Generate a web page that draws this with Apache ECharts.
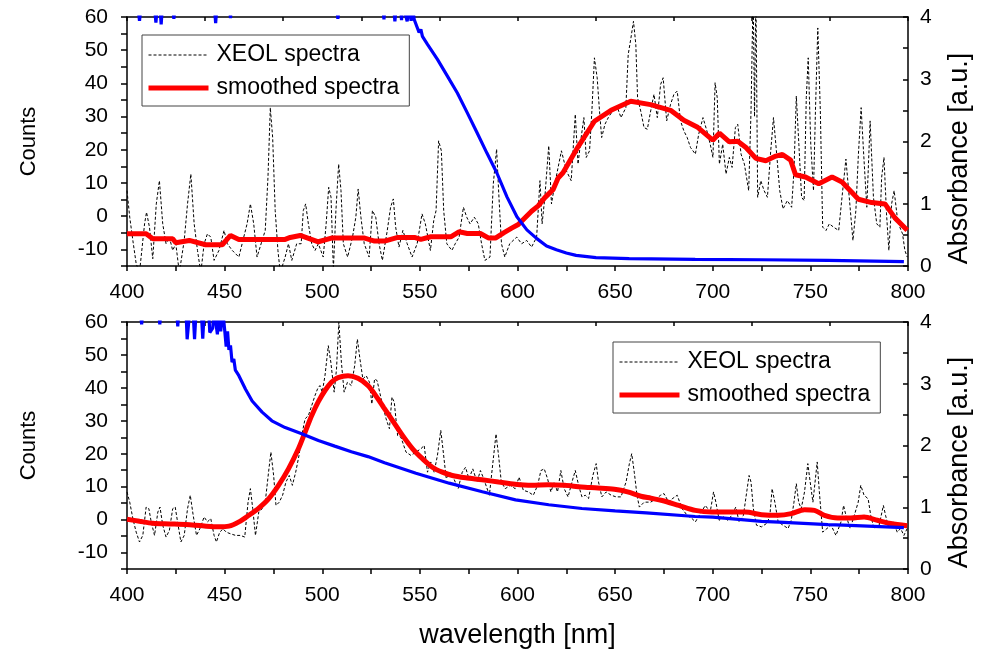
<!DOCTYPE html>
<html><head><meta charset="utf-8">
<script src="https://cdn.jsdelivr.net/npm/echarts@6/dist/echarts.min.js"></script>
<style>html,body{margin:0;padding:0;background:#fff}#c{width:981px;height:655px}</style>
</head><body><div id="c"></div>
<script>
const FONT = '"Liberation Sans", Arial, sans-serif';

// ---------- TOP PANEL ----------
const topXeolWl = [400,401.4,403,404.7,406.4,409,410,411.5,413.2,415,416.6,418.3,420,421.7,423.4,425,426.8,429.3,431,432.7,434.4,436.1,437.8,439.5,441.2,442.9,444.6,447.1,449.7,451.4,453.9,457.3,459.8,461.5,463.2,464.9,466.6,469.2,470.8,472.2,473.4,474.6,475.9,477.3,478.5,481,482.7,484.4,486.9,489.2,490.3,491.5,492.9,494.6,496.3,498,500.5,502,503.3,504.5,505.7,507,508.4,509.6,510.8,513,515.5,517.2,518.4,519.8,521.5,524,525.7,527.4,529.1,530.8,533.3,535,536.4,537.6,539.3,541.3,543.5,546,548.6,551.1,552.8,555.4,557.1,558.3,559.6,561,562.2,563.8,566.4,568.1,570.1,572.3,574,575.7,577.9,579.9,581.6,583.3,585.9,587.6,589.3,590.5,591.8,593.5,596,599.6,602.1,604.7,607.2,609.8,611.5,612.6,614,616,617.4,619.1,622.5,625,627.5,629.6,631,632.6,634,635.2,636.9,638.1,639.4,640.8,642,643.1,644.8,646.5,648.7,650.9,653,655.5,656.7,658.1,659.4,660.6,661.5,663.1,664.8,666.5,668.2,669.9,671.6,673.3,674.6,676.4,678.4,680.1,681.8,683.5,685.2,686.9,688.6,691.1,692.8,695,697,698.7,700.1,701.2,702.3,703.4,705.1,706.8,708.5,709.9,711.6,712.8,714.5,716.2,718.4,719.6,720.7,721.4,722.1,723,724.6,726.3,728,729.7,731.1,732.6,734.3,736,738.2,740.4,741.6,742.8,744.1,745.5,746.8,747.9,748.9,750.2,751.6,752.6,753.8,755.1,756.3,758,759.7,761.9,764.5,766.2,768.2,769.9,771.8,773.3,774.6,776,777.2,778.9,780.6,782.3,784,785.6,786.5,787.7,789,790.2,791.6,792.9,794.5,795.8,797.2,798.4,799.6];
const topXeolCounts = [7.7,-0.3,-7.3,-14.3,-17,-2.3,1.2,-3.3,-12.8,3.7,10.7,-2.3,-8.3,-6.3,-10.3,-8.3,-17,-7.3,3.7,12.7,-2.3,-10.3,-17,-8.3,-5.3,-6.3,-13.3,-10.3,-4.3,-8.3,-10.3,-12.3,-6.3,-2.3,3.7,-2.3,-12.3,-7.3,-4.3,11.7,32.7,23.7,1.7,-10.3,-17,-12.3,-8.3,-13.3,-8.3,-8.3,1.7,3.7,-2.3,-8.3,-10.3,-8.3,-12.3,-2.3,8.7,5.7,-16,1.7,15.7,7.7,-8.3,-12.3,-6.3,-0.3,8.2,-0.3,-8.3,-12.3,1.7,-0.3,-8.3,-13.3,-4.3,2.7,5.2,-3.3,-9.3,-4.3,-8.3,-12.3,-8.3,0.7,-2.3,-10.3,-1.3,1.7,22.7,19.7,1.7,-8.3,-10.3,-8.3,-6.3,2.7,-0.3,-2.3,-0.3,-2.3,-8.3,-13.3,-12.3,9.7,20.2,5.7,-8.3,-12.3,-8.3,-6.3,-8.3,-7.3,-9.3,-6.3,10.7,-2.3,5.7,21.2,3.7,9.7,19.7,13.7,10.7,30.7,15.7,23.7,29.7,17.7,19.7,31.7,47.7,41.7,31.7,23.7,27.7,29.7,31.7,33.2,29.7,32.7,48.7,53.7,58.7,51.7,35.7,31.7,26.7,26.2,31.7,36.7,29.7,39.7,41.7,28.7,33.7,36.7,37.7,28.7,25.7,23.7,20.7,18.7,24.7,29.7,25.7,21.7,17.7,40.2,35.7,15.7,21.7,12.7,17.7,14.7,26.7,27.7,18.7,15.7,7.7,31.7,68,30,68,5.7,10.7,7.7,5.7,19.7,29.7,19.7,7.7,2.2,4.7,2.7,13.7,36.2,21.7,5.7,4.7,35.7,47.7,21.7,7.7,31.7,56.7,31.7,-3.3,-4.3,-2.3,-3.3,-4.3,5.7,17.2,5.7,-7.3,1.7,18.7,32.7,19.7,2.7,28.7,5.7,-2.3,-3.3,11.7,17.7,0.7,-10.3,3.7,7.7,-0.3,-3.3,-5.3,-10.3,-12.3];

const topSmoothWl = [400,409.8,413.2,423.4,425,431.9,440.3,448.8,453,457.3,465.8,470.9,481,483.6,488.7,498,504.7,521.7,526.8,531.9,538.7,547.2,550.5,555.6,565.8,570,574.3,581,585.3,588.7,592.9,597,600.4,607.2,610.6,614,618.2,620.8,623.3,631,639.4,647.9,658,668.2,678.4,685.2,692,700,703.4,708.5,712.8,717,722.1,727.2,732.3,735.7,739.9,742.4,747.5,754.3,761.1,766.2,774.6,781.4,788.2,793.3,799.6];
const topSmoothCounts = [-5.3,-5.3,-6.8,-6.8,-8.0,-7.3,-8.6,-8.6,-5.8,-7.0,-7.0,-7.0,-7.0,-6.4,-5.8,-7.7,-6.6,-6.6,-7.5,-7.5,-6.4,-6.4,-7.0,-6.2,-6.2,-4.7,-5.2,-5.2,-6.6,-6.6,-5.0,-3.6,-2.5,1.5,3.1,5.6,8.0,11.5,13.1,20.9,28.6,31.9,34.6,33.6,31.9,28.9,26.9,22.9,25.0,22.4,22.6,20.7,17.4,16.7,18.1,18.6,16.9,12.5,11.8,9.8,11.8,10.3,5.1,4.1,3.7,-0.5,-4.2];

const topAbsWl = [400,405.5,406.4,407.3,414,414.8,415.6,416.8,417.5,418.2,423.3,424,424.7,444.7,445.4,446.1,452.5,453,453.5,507.3,508,508.7,531,531.6,532.2,536.5,537.2,538,540,540.6,541.3,543.5,544.5,545.5,546.5,547.1,549.6,550.5,551.3,553.9,559,564.1,569.2,574.3,579.3,584.4,589.5,594.6,599.7,604.8,609.9,614.9,619.9,625,630,640.2,657.2,691,725,758.9,797.9];
const topAbsValues = [4.2,4.2,3.94,4.2,4.2,3.91,4.2,4.2,3.88,4.2,4.2,3.97,4.2,4.2,3.9,4.2,4.2,3.98,4.2,4.2,3.97,4.2,4.2,3.96,4.2,4.2,3.93,4.2,4.2,3.95,4.2,3.93,4.2,3.94,4.1,3.96,3.75,3.8,3.69,3.56,3.32,3.05,2.78,2.46,2.14,1.81,1.49,1.11,0.79,0.58,0.44,0.32,0.26,0.21,0.17,0.135,0.12,0.105,0.10,0.09,0.07];

// ---------- BOTTOM PANEL ----------
const botXeolWl = [400,401.4,403,404.7,406.4,408.1,409.8,411.2,412.4,414.1,415.8,416.9,418.3,420,421.7,423.4,424.7,425.9,427.6,429.3,431,432.4,433.9,435.6,437.3,439.5,441.2,442.9,444.6,445.8,447.5,449.2,450.8,453,455.6,458.1,460.3,462,463.2,464.4,465.8,467.5,469.2,470.8,472.5,473.7,475.1,476.3,478,479.7,481.4,483.1,484.7,486.4,488.1,489.8,491.2,492.9,494.6,496.3,497.6,498.8,500,501.4,503.1,504.4,506.1,507.3,508.5,509.8,511.2,512.9,514.9,516.6,518,519.3,520.8,522.5,524.2,525.4,526.8,528.1,530.2,532.7,534.4,535.7,536.9,538.6,540.3,542.9,545.4,548,550.5,552.2,553.9,555.6,557.3,559,560.7,561.8,563.5,565.2,567.4,569.6,571.7,573.4,575.1,577.1,579.3,581,582.7,585.6,587.8,589,590.3,591.7,593.7,596.3,598.8,600.8,603,605.6,608.1,610.3,612,613.7,615.4,617.1,618.8,620.5,622.2,623.9,625.9,627.9,629.6,631.3,633,634.7,636.4,638.6,640.3,641.5,643.2,645.4,648,650.5,653,655.6,657.3,658.5,659.8,661.2,662.4,664.9,668.2,670.8,673.3,675,677.5,679.2,681.8,684.3,686.9,689.4,691.1,693.6,696.2,698.7,700.4,701.6,703.3,705.5,707.7,709.7,711.8,713.5,715.7,717.4,718.6,719.6,720.8,722.4,725,727.5,729.2,730.4,731.8,733.5,736,738.6,740.2,741.6,742.8,744,745.3,747,748.7,749.9,751.3,752.4,753.5,754.6,756.3,758.5,760.6,763.1,765.7,767,768.2,770.4,772.5,774.5,775.8,777.5,779.6,780.9,782.6,785.2,787.4,788.5,790.2,792.4,794.5,796.2,797.9,799.6];
const botXeolCounts = [8.4,5.3,0.3,-3.8,-6.8,-4.8,3.8,3.3,-0.7,-4.8,2.3,3.8,-1.7,-5.3,-3.3,3.3,3.8,-0.7,-6.8,-4.8,3.3,7.4,1.3,-4.8,-2.8,0.8,-0.7,0.3,-4.8,-6.8,-3.8,-2.8,-3.8,-4.3,-4.8,-4.8,-5.3,5.3,9.4,3.3,-4.8,2.3,3.3,5.3,14.4,20.5,13.4,4.3,5.3,7.4,11.4,13.4,10.4,14.4,19.5,26.5,30.6,31.6,34.6,37.7,39.7,40.7,38.7,43.7,52.8,47.8,38.7,45.7,59.9,47.8,38.7,41.7,40.7,46.7,54.8,48.8,42.7,43.7,41.7,35.1,42.7,42.2,36.6,30.6,27.6,37.2,35.6,25.5,25.0,20.5,19.5,20.5,21.5,22.5,14.4,17.5,14.4,19.5,27.1,21.5,12.4,14.4,12.4,9.4,14.4,15.9,12.4,15.4,11.4,14.9,12.4,7.4,19.5,26.0,19.5,11.4,9.4,10.4,9.4,12.9,8.9,8.4,7.4,10.4,14.9,15.4,12.4,8.4,11.4,8.4,14.9,9.4,6.9,11.4,14.9,10.4,6.9,7.4,6.4,13.4,17.0,11.4,6.9,8.4,7.4,6.9,6.9,11.4,17.0,20.0,14.4,7.4,3.8,5.3,5.3,6.3,7.4,7.9,5.3,6.3,7.4,3.3,1.3,0.3,-0.7,1.8,4.3,2.3,8.4,5.3,-0.2,0.8,-0.2,1.3,3.8,-0.7,1.3,8.4,13.4,11.4,3.3,-1.7,-2.2,-1.2,0.8,9.4,5.3,-0.7,-1.7,-2.7,-0.2,5.3,10.9,5.3,3.3,8.4,17.0,11.4,5.3,11.4,17.5,8.4,-3.8,-2.7,-1.7,-4.8,-0.7,4.3,1.3,-2.7,1.3,5.3,10.4,7.4,6.3,1.3,-2.7,-1.7,4.3,1.3,-2.7,-0.7,-3.8,-2.7,-4.8,-2.7];

const botSmoothWl = [400,406.4,413.2,421.7,430.2,438.6,447.1,452.2,457.3,462.4,467.5,472.5,477.6,482.7,487.8,491.2,494.6,498,501.4,504.7,508.1,513.2,518.3,523.4,528.5,531.5,536.1,541.2,546.3,551.3,556.4,561.5,566.6,573.4,581.8,590.3,598.8,607.3,615.7,624.2,632.7,641.2,649.6,656.4,663.2,668.3,674.1,682.6,691.1,699.6,708,716.5,725,733.5,740.2,747,752.1,757.2,764,770.7,777.5,784.3,791.1,799.6];
const botSmoothCounts = [0.1,-0.5,-1.1,-1.3,-1.5,-1.9,-2.2,-2.0,-0.7,1.3,3.5,6.3,10.4,15.4,21.5,26.5,31.6,35.8,39.2,41.7,43.1,43.7,42.9,40.7,36.7,34.0,30.0,25.5,21.5,18.5,15.9,14.4,13.4,12.7,12.1,11.4,10.7,10.4,10.6,10.4,9.9,9.6,9.2,8.4,7.1,6.5,5.8,4.3,2.8,2.3,2.3,2.3,1.5,1.3,1.8,3.0,2.8,1.3,0.5,0.5,0.8,-0.2,-1.2,-1.9];

const botAbsWl = [400,406.8,407.5,408.2,416.2,416.8,417.4,425.4,426,426.6,430.2,430.8,431.6,432.2,433.8,434.6,435.4,438,438.8,439.6,441.8,442.4,443.9,444.6,445.6,446.3,447,448,449,450,450.8,451.5,452.2,453,453.8,454.7,455.5,457.3,460.7,464.1,469.2,474.2,481,489.5,498,506.4,514.9,523.4,531.9,548,565,582,599,616,633,650,666,691,700,725,734,759,767,797.9];
const botAbsValues = [4.2,4.2,3.96,4.2,4.2,3.96,4.2,4.2,3.93,4.2,4.2,3.72,3.72,4.2,4.2,3.72,4.2,4.2,3.73,4.2,4.2,3.83,3.9,4.2,4.2,3.8,4.2,3.85,4.2,3.88,3.6,3.85,3.55,3.62,3.35,3.4,3.22,3.13,2.91,2.72,2.54,2.40,2.29,2.19,2.08,1.99,1.90,1.82,1.72,1.55,1.39,1.25,1.12,1.04,0.98,0.94,0.91,0.85,0.84,0.77,0.76,0.72,0.71,0.67];

// ---------- AXIS TICKS ----------
const xMin = 400, xMax = 800, xStep = 25, xLabelStep = 50, xTopStep = 40;
const cMin = -15, cMax = 60, cStep = 5, cLabelStep = 10;
const aMin = 0, aMax = 4, aStep = 0.5;

function zip(a, b) { return a.map((x, i) => [x, b[i]]); }

const black = '#000';
const lineAx = { show: true, onZero: false, lineStyle: { color: black, width: 1.5 } };
const tickStyle = { color: black, width: 1.5 };

function xAxisBottom(gi, withName) {
  return {
    type: 'value', gridIndex: gi, position: 'bottom', min: xMin, max: xMax, interval: xStep,
    axisLine: lineAx, axisTick: { show: true, inside: false, length: 5, lineStyle: tickStyle },
    axisLabel: { formatter: v => (v % xLabelStep === 0 ? String(v) : ''), color: black, fontSize: 21, fontFamily: FONT, margin: 16 },
    splitLine: { show: false },
    name: withName ? 'wavelength [nm]' : '', nameLocation: 'middle', nameGap: 53,
    nameTextStyle: { color: black, fontSize: 27, fontFamily: FONT }
  };
}
function xAxisTop(gi) {
  return {
    type: 'value', gridIndex: gi, position: 'top', min: xMin, max: xMax, interval: xTopStep,
    axisLine: lineAx, axisTick: { show: true, inside: true, length: 4, lineStyle: tickStyle },
    axisLabel: { show: false }, splitLine: { show: false }
  };
}
function yAxisLeft(gi) {
  return {
    type: 'value', gridIndex: gi, position: 'left', min: cMin, max: cMax, interval: cStep,
    axisLine: lineAx, axisTick: { show: true, inside: false, length: 6, lineStyle: tickStyle },
    axisLabel: { formatter: v => (v % cLabelStep === 0 ? String(v) : ''), color: black, fontSize: 21, fontFamily: FONT, margin: 19 },
    splitLine: { show: false },
    name: 'Counts', nameLocation: 'middle', nameGap: 87, nameRotate: 90,
    nameTextStyle: { color: black, fontSize: 22, fontFamily: FONT }
  };
}
function yAxisRight(gi) {
  return {
    type: 'value', gridIndex: gi, position: 'right', min: aMin, max: aMax, interval: aStep,
    axisLine: lineAx, axisTick: { show: true, inside: true, length: 5, lineStyle: tickStyle },
    axisLabel: { formatter: v => (Number.isInteger(v) ? String(v) : ''), color: black, fontSize: 21, fontFamily: FONT, margin: 12 },
    splitLine: { show: false },
    name: 'Absorbance [a.u.]', nameLocation: 'middle', nameGap: 38, nameRotate: 90,
    nameTextStyle: { color: black, fontSize: 27, fontFamily: FONT, padding: [0, 34, 0, 0] }
  };
}

function seriesSet(xi, yl, yr, xw, xc, sw, sc, aw, av, smoothRed) {
  return [
    { name: 'XEOL spectra', type: 'line', xAxisIndex: xi, yAxisIndex: yl, data: zip(xw, xc),
      symbol: 'none', showSymbol: false, clip: true, z: 2, itemStyle: { color: black },
      lineStyle: { color: black, width: 1, type: [3, 2] } },
    { name: 'smoothed spectra', type: 'line', xAxisIndex: xi, yAxisIndex: yl, data: zip(sw, sc),
      symbol: 'none', showSymbol: false, clip: true, z: 3, smooth: smoothRed, itemStyle: { color: '#ff0000' },
      lineStyle: { color: '#ff0000', width: 5 } },
    { name: 'absorbance', type: 'line', xAxisIndex: xi, yAxisIndex: yr, data: zip(aw, av),
      symbol: 'none', showSymbol: false, clip: true, z: 4, itemStyle: { color: '#0000ff' },
      lineStyle: { color: '#0000ff', width: 3.2 } }
  ];
}

const legendBase = {
  orient: 'vertical', itemWidth: 60, itemHeight: 14, itemGap: 9,
  padding: [8, 10, 6, 4], borderColor: '#444', borderWidth: 1, backgroundColor: '#fff',
  selectedMode: false, data: ['XEOL spectra', 'smoothed spectra'],
  itemStyle: { opacity: 0 },
  lineStyle: { width: 'inherit', type: 'inherit', color: 'inherit' },
  textStyle: { color: black, fontSize: 23, fontFamily: FONT, lineHeight: 24, padding: [0, 0, 0, 3] }
};

const chart = echarts.init(document.getElementById('c'), null, { renderer: 'canvas' });
chart.setOption({
  animation: false,
  backgroundColor: '#fff',
  grid: [
    { left: 127, top: 17, width: 787, height: 249 },
    { left: 127, top: 322, width: 787, height: 247 }
  ],
  xAxis: [xAxisBottom(0, false), xAxisTop(0), xAxisBottom(1, true), xAxisTop(1)],
  yAxis: [yAxisLeft(0), yAxisRight(0), yAxisLeft(1), yAxisRight(1)],
  legend: [
    Object.assign({}, legendBase, { left: 142, top: 35 }),
    Object.assign({}, legendBase, { left: 613, top: 342 })
  ],
  series: [
    ...seriesSet(0, 0, 1, topXeolWl, topXeolCounts, topSmoothWl, topSmoothCounts, topAbsWl, topAbsValues, false),
    ...seriesSet(2, 2, 3, botXeolWl, botXeolCounts, botSmoothWl, botSmoothCounts, botAbsWl, botAbsValues, 0.3)
  ]
});
</script></body></html>
